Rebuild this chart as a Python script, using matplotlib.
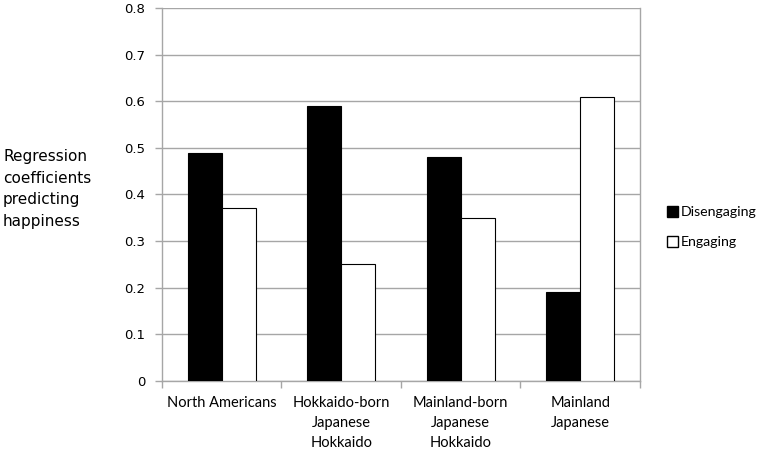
import matplotlib
matplotlib.use("Agg")
import matplotlib.pyplot as plt
import numpy as np
from matplotlib.patches import Patch

# --- Data ---
groups = ["North Americans", "Hokkaido-born\nJapanese\nHokkaido",
          "Mainland-born\nJapanese\nHokkaido", "Mainland\nJapanese"]
disengaging = [0.49, 0.59, 0.48, 0.19]
engaging = [0.37, 0.25, 0.35, 0.61]
yticks = [0, 0.1, 0.2, 0.3, 0.4, 0.5, 0.6, 0.7, 0.8]

GRID = "#a6a6a6"

fig = plt.figure(figsize=(7.67, 4.51), dpi=100)
ax = fig.add_axes([0.2112, 0.1552, 0.6232, 0.8271])

x = np.arange(len(groups)) + 0.5
w = 0.285
ax.bar(x - w / 2, disengaging, w, color="black", edgecolor="black", linewidth=0.8, zorder=3)
ax.bar(x + w / 2, engaging, w, color="white", edgecolor="black", linewidth=0.8, zorder=3)

ax.set_xlim(0, len(groups))
ax.set_ylim(0, 0.8)
ax.set_yticks(yticks)
ax.set_yticklabels(["0" if v == 0 else f"{v:.1f}" for v in yticks],
                   fontsize=9.5, family="DejaVu Sans")
ax.yaxis.grid(True, color=GRID, linewidth=1)
ax.set_axisbelow(True)

# category boundaries as ticks, labels in the middle
ax.set_xticks(np.arange(len(groups) + 1))
ax.set_xticklabels([])
ax.set_xticks(x, minor=True)
ax.set_xticklabels(groups, minor=True, fontsize=10.5, family="Lato", linespacing=1.55)
ax.tick_params(axis="x", which="minor", length=0, pad=11)
ax.tick_params(axis="x", which="major", length=5, color=GRID, width=1)
ax.tick_params(axis="y", length=5, color=GRID, width=1, pad=7)

ax.spines["top"].set_visible(False)
for s in ["left", "bottom", "right"]:
    ax.spines[s].set_color(GRID)
    ax.spines[s].set_linewidth(1)

fig.text(0.004, 0.669, "Regression\ncoefficients\npredicting\nhappiness",
         fontsize=11, family="DejaVu Sans", va="top", ha="left", linespacing=1.55)

handles = [Patch(facecolor="black", edgecolor="black", label="Disengaging"),
           Patch(facecolor="white", edgecolor="black", label="Engaging")]
fig.legend(handles=handles, loc="center left", bbox_to_anchor=(0.853, 0.496),
           frameon=False, prop={"family": "Lato", "size": 10.2},
           handlelength=0.8, handleheight=0.8, handletextpad=0.15, labelspacing=1.25)

fig.savefig("out.png", dpi=100)
